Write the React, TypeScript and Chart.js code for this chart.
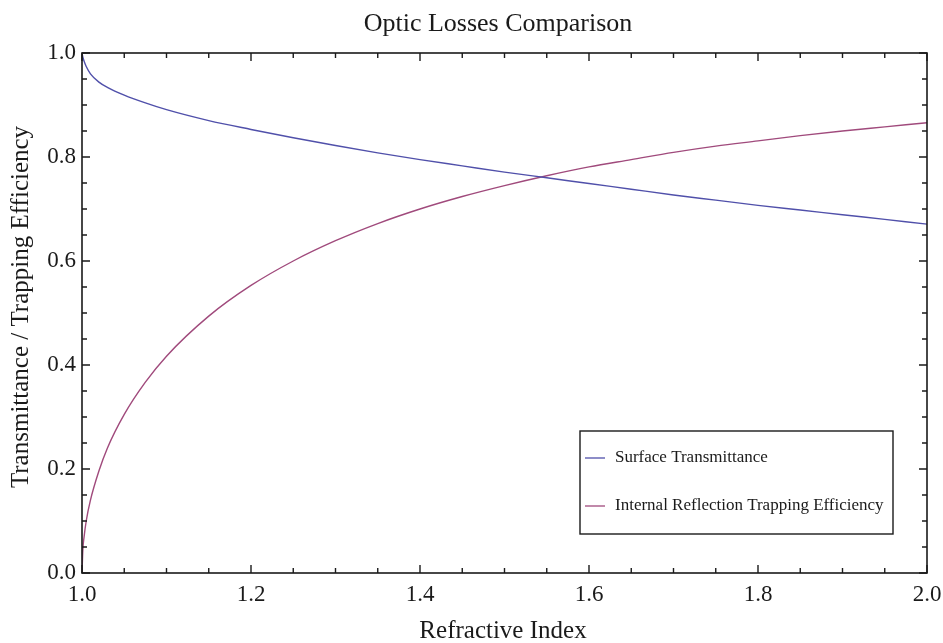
import React, { useEffect, useRef } from "react";
import { Chart, registerables } from "chart.js";

Chart.register(...registerables);

const chartTitle = "Optic Losses Comparison";
const xAxisTitle = "Refractive Index";
const yAxisTitle = "Transmittance / Trapping Efficiency";
const seriesNames = ["Surface Transmittance", "Internal Reflection Trapping Efficiency"];

const refractiveIndex = [
  1.0, 1.001, 1.0025, 1.005, 1.01, 1.02, 1.03, 1.05, 1.075, 1.1, 1.15, 1.2, 1.25, 1.3, 1.35,
  1.4, 1.45, 1.5, 1.55, 1.6, 1.65, 1.7, 1.75, 1.8, 1.85, 1.9, 1.95, 2.0,
];
const surfaceTransmittance = [
  1.0, 0.992, 0.984, 0.974, 0.96, 0.944, 0.934, 0.919, 0.904, 0.891, 0.87, 0.853, 0.837, 0.822,
  0.808, 0.795, 0.783, 0.771, 0.76, 0.749, 0.738, 0.727, 0.717, 0.707, 0.698, 0.689, 0.68, 0.671,
];
const trappingEfficiency = [
  0.0, 0.045, 0.07, 0.1, 0.14, 0.196, 0.24, 0.305, 0.367, 0.417, 0.494, 0.553, 0.6, 0.639, 0.672,
  0.7, 0.724, 0.745, 0.764, 0.781, 0.795, 0.809, 0.821, 0.831, 0.841, 0.85, 0.858, 0.866,
];

const xTicks = [1.0, 1.2, 1.4, 1.6, 1.8, 2.0];
const yTicks = [0.0, 0.2, 0.4, 0.6, 0.8, 1.0];

const BLUE = "#5050aa";
const PINK = "#a04a7c";
const SERIF = "'Liberation Serif', 'Times New Roman', serif";

const framePlugin = {
  id: "framePlugin",
  afterDraw(chart: any) {
    const { ctx, chartArea } = chart;
    const xs = chart.scales.x;
    const ys = chart.scales.y;
    const { left, right, top, bottom } = chartArea;
    ctx.save();
    ctx.strokeStyle = "#1a1a1a";
    ctx.lineWidth = 1.6;
    ctx.strokeRect(left, top, right - left, bottom - top);
    ctx.lineWidth = 1.4;
    const isMajor = (v: number, step: number) => Math.abs(v / step - Math.round(v / step)) < 1e-6;
    for (let i = 0; i <= 20; i++) {
      const v = 1.0 + i * 0.05;
      const px = xs.getPixelForValue(v);
      const len = isMajor(v - 1.0, 0.2) ? 8 : 5;
      ctx.beginPath();
      ctx.moveTo(px, bottom);
      ctx.lineTo(px, bottom - len);
      ctx.moveTo(px, top);
      ctx.lineTo(px, top + len);
      ctx.stroke();
    }
    for (let i = 0; i <= 20; i++) {
      const v = i * 0.05;
      const py = ys.getPixelForValue(v);
      const len = isMajor(v, 0.2) ? 8 : 5;
      ctx.beginPath();
      ctx.moveTo(left, py);
      ctx.lineTo(left + len, py);
      ctx.moveTo(right, py);
      ctx.lineTo(right - len, py);
      ctx.stroke();
    }
    ctx.fillStyle = "#1a1a1a";
    ctx.textAlign = "center";
    ctx.textBaseline = "alphabetic";
    ctx.font = `26px ${SERIF}`;
    ctx.fillText(chartTitle, 498, 31);
    ctx.font = `25px ${SERIF}`;
    ctx.fillText(xAxisTitle, 503, 638);
    ctx.save();
    ctx.translate(28, 307);
    ctx.rotate(-Math.PI / 2);
    ctx.fillText(yAxisTitle, 0, 0);
    ctx.restore();
    const lx = 580, ly = 431, lw = 313, lh = 103;
    ctx.fillStyle = "#ffffff";
    ctx.fillRect(lx, ly, lw, lh);
    ctx.strokeStyle = "#1a1a1a";
    ctx.lineWidth = 1.4;
    ctx.strokeRect(lx, ly, lw, lh);
    const items = [
      { name: seriesNames[0], color: BLUE, y: 458 },
      { name: seriesNames[1], color: PINK, y: 506 },
    ];
    ctx.font = `17px ${SERIF}`;
    ctx.textAlign = "left";
    ctx.textBaseline = "middle";
    for (const it of items) {
      ctx.strokeStyle = it.color;
      ctx.lineWidth = 1.3;
      ctx.beginPath();
      ctx.moveTo(585, it.y);
      ctx.lineTo(605, it.y);
      ctx.stroke();
      ctx.fillStyle = "#1a1a1a";
      ctx.fillText(it.name, 615, it.y);
    }
    ctx.restore();
  },
};

export default function App() {
  const ref = useRef<HTMLCanvasElement | null>(null);
  useEffect(() => {
    if (!ref.current) return;
    const chart = new Chart(ref.current, {
      type: "line",
      data: {
        datasets: [
          {
            label: seriesNames[0],
            data: refractiveIndex.map((x, i) => ({ x, y: surfaceTransmittance[i] })),
            borderColor: BLUE,
            borderWidth: 1.4,
            pointRadius: 0,
            cubicInterpolationMode: "monotone",
            fill: false,
          },
          {
            label: seriesNames[1],
            data: refractiveIndex.map((x, i) => ({ x, y: trappingEfficiency[i] })),
            borderColor: PINK,
            borderWidth: 1.4,
            pointRadius: 0,
            cubicInterpolationMode: "monotone",
            fill: false,
          },
        ],
      },
      options: {
        responsive: false,
        animation: false,
        devicePixelRatio: 1,
        layout: { padding: { top: 53, right: 16, left: 0, bottom: 0 } },
        plugins: {
          legend: { display: false },
          title: { display: false },
          tooltip: { enabled: false },
        },
        scales: {
          x: {
            type: "linear",
            min: 1.0,
            max: 2.0,
            grid: { display: false, drawTicks: false },
            border: { display: false },
            afterFit: (s: any) => {
              s.height = 70;
              s.paddingLeft = 0;
              s.paddingRight = 0;
            },
            afterBuildTicks: (s: any) => {
              s.ticks = xTicks.map((v) => ({ value: v }));
            },
            ticks: {
              padding: 8,
              maxRotation: 0,
              color: "#1a1a1a",
              font: { family: SERIF, size: 23 },
              callback: (v: any) => Number(v).toFixed(1),
            },
          },
          y: {
            type: "linear",
            min: 0,
            max: 1.0,
            grid: { display: false, drawTicks: false },
            border: { display: false },
            afterFit: (s: any) => {
              s.width = 82;
              s.paddingTop = 0;
              s.paddingBottom = 0;
            },
            afterBuildTicks: (s: any) => {
              s.ticks = yTicks.map((v) => ({ value: v }));
            },
            ticks: {
              padding: 6,
              color: "#1a1a1a",
              font: { family: SERIF, size: 23 },
              callback: (v: any) => Number(v).toFixed(1),
            },
          },
        },
      },
      plugins: [framePlugin],
    } as any);
    return () => chart.destroy();
  }, []);
  return (
    <div style={{ position: "absolute", left: 0, top: 0, width: 943, height: 643, background: "#fff" }}>
      <canvas ref={ref} width={943} height={643} style={{ width: 943, height: 643, display: "block" }} />
    </div>
  );
}
